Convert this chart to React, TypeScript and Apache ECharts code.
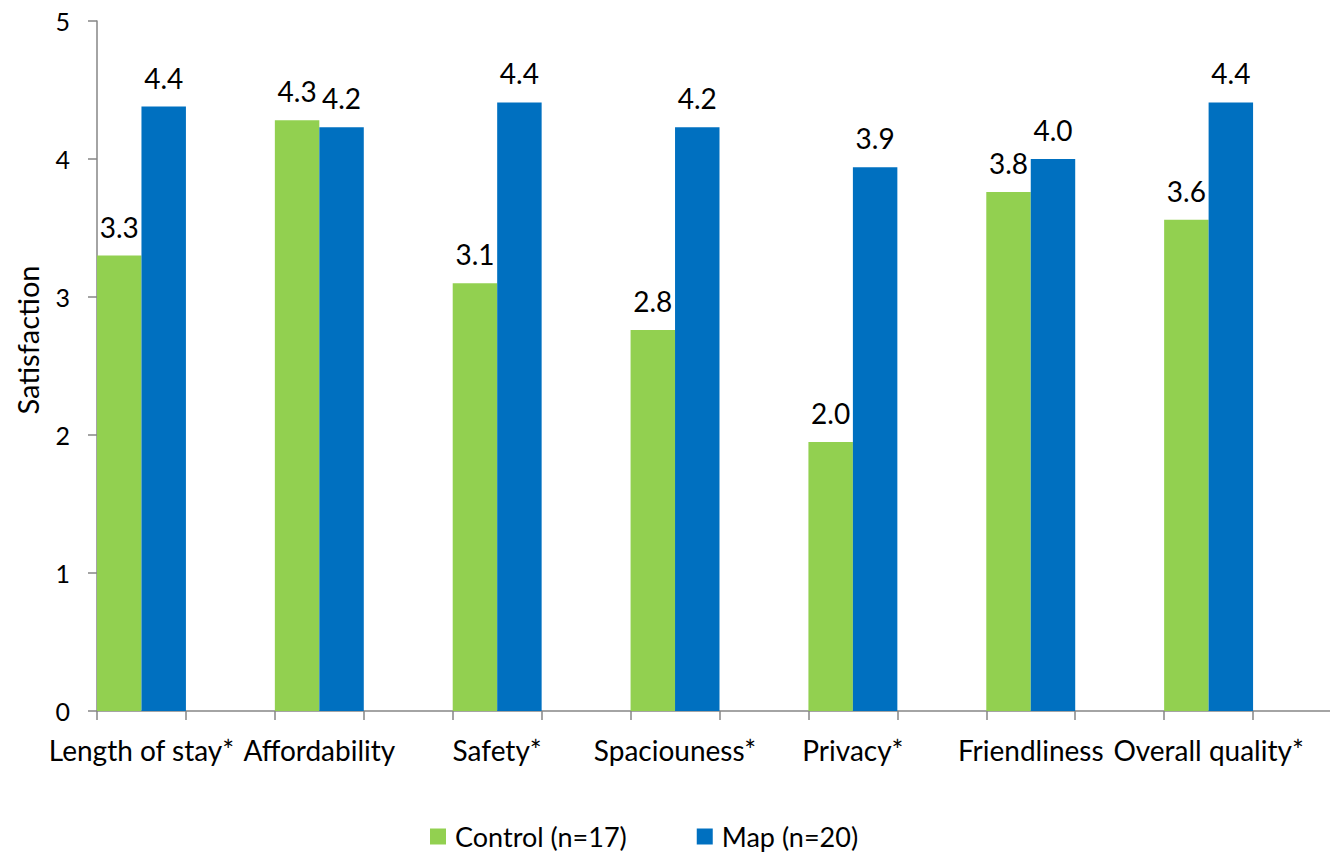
import React, { useEffect, useRef } from "react";
import * as echarts from "echarts";

const categories = [
  "Length of stay*",
  "Affordability",
  "Safety*",
  "Spaciouness*",
  "Privacy*",
  "Friendliness",
  "Overall quality*",
];
const controlValues = [3.3, 4.28, 3.1, 2.76, 1.95, 3.76, 3.56];
const mapValues = [4.38, 4.23, 4.41, 4.23, 3.94, 4.0, 4.41];
const seriesNames = ["Control (n=17)", "Map (n=20)"];
const yTicks = { min: 0, max: 5, interval: 1 };
const yTitle = "Satisfaction";

// each category is followed by an empty slot, as in the original
const slotLabels: string[] = [];
const controlSlots: (number | null)[] = [];
const mapSlots: (number | null)[] = [];
categories.forEach((c, i) => {
  slotLabels.push(c, "");
  controlSlots.push(controlValues[i], null);
  mapSlots.push(mapValues[i], null);
});

const FONT = "Lato";

export default function App() {
  const ref = useRef<HTMLDivElement>(null);
  useEffect(() => {
    if (!ref.current) return;
    const chart = echarts.init(ref.current, undefined, { renderer: "svg" });
    const labelStyle = {
      show: true,
      position: "top" as const,
      distance: 15,
      fontFamily: FONT,
      fontSize: 28,
      color: "#000",
      formatter: (p: any) =>
        p.value == null ? "" : (Math.round(Number(p.value) * 10 + 1e-9) / 10).toFixed(1),
    };
    chart.setOption({
      animation: false,
      textStyle: { fontFamily: FONT },
      grid: {
        left: 97,
        top: 21,
        width: 1245,
        height: 690,
        containLabel: false,
        outerBoundsMode: "none",
      },
      graphic: [
        {
          type: "text",
          x: 27,
          y: 340,
          rotation: Math.PI / 2,
          style: {
            text: yTitle,
            fontFamily: FONT,
            fontSize: 29,
            fill: "#000",
            align: "center",
            verticalAlign: "middle",
          },
        },
      ],
      legend: {
        left: 425,
        top: 818,
        itemWidth: 16,
        itemHeight: 16,
        itemGap: 70,
        icon: "rect",
        textStyle: { fontFamily: FONT, fontSize: 27, color: "#000", padding: [0, 0, 0, 4] },
        data: seriesNames,
      },
      xAxis: {
        type: "category",
        data: slotLabels,
        boundaryGap: true,
        axisLine: { lineStyle: { color: "#868686", width: 1.5 } },
        axisTick: {
          show: true,
          interval: 0,
          alignWithLabel: false,
          length: 9,
          lineStyle: { color: "#868686", width: 1.5 },
        },
        axisLabel: { interval: 0, margin: 25, fontFamily: FONT, fontSize: 28, color: "#000" },
      },
      yAxis: {
        type: "value",
        min: yTicks.min,
        max: yTicks.max,
        interval: yTicks.interval,
        axisLine: { show: true, lineStyle: { color: "#868686", width: 1.5 } },
        axisTick: { show: true, length: 9, lineStyle: { color: "#868686", width: 1.5 } },
        splitLine: { show: false },
        axisLabel: { margin: 27, fontFamily: FONT, fontSize: 25, color: "#000" },
      },
      series: [
        {
          name: seriesNames[0],
          type: "bar",
          data: controlSlots,
          barGap: "0%",
          barCategoryGap: "0%",
          itemStyle: { color: "#92D050" },
          label: labelStyle,
        },
        {
          name: seriesNames[1],
          type: "bar",
          data: mapSlots,
          barGap: "0%",
          barCategoryGap: "0%",
          itemStyle: { color: "#0070C0" },
          label: labelStyle,
        },
      ],
    });
    return () => chart.dispose();
  }, []);
  return (
    <div
      ref={ref}
      style={{ position: "absolute", left: 0, top: 0, width: 1330, height: 855, background: "#fff" }}
    />
  );
}
